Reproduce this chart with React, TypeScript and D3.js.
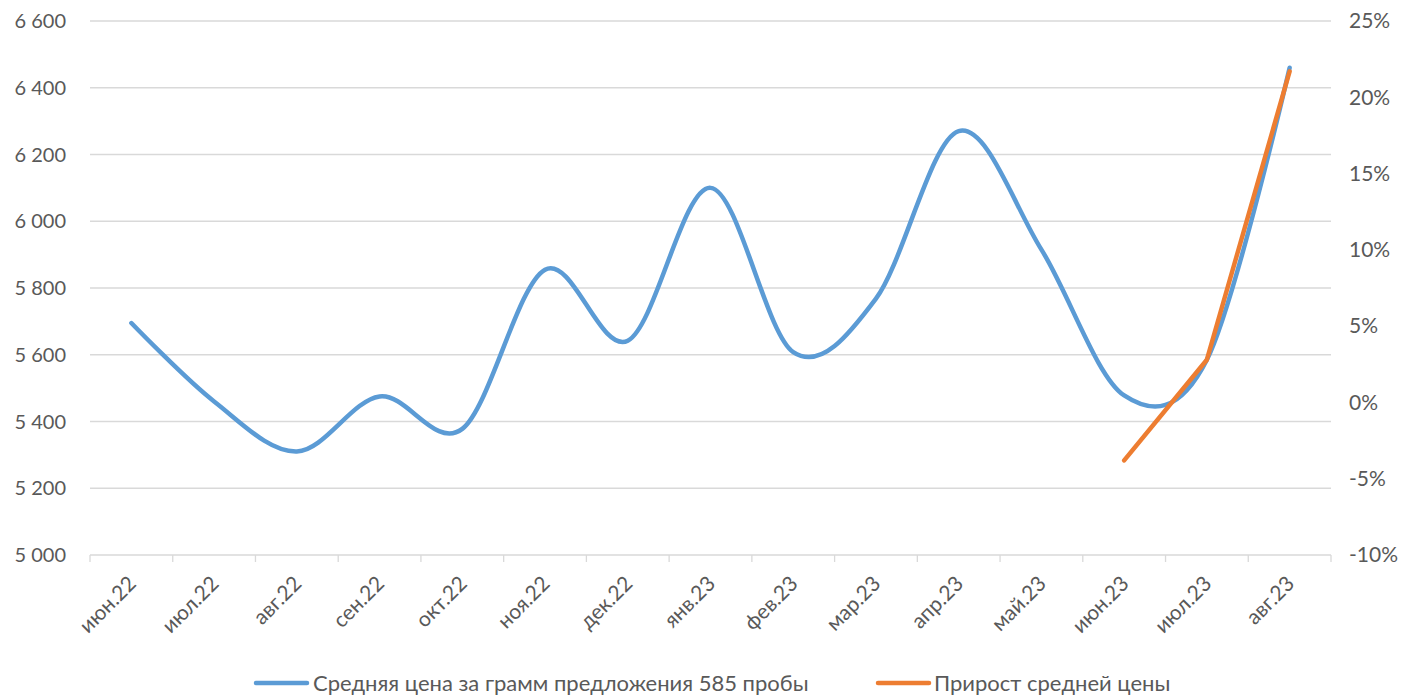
import React from "react";
import * as d3 from "d3";

const categories = ["июн.22","июл.22","авг.22","сен.22","окт.22","ноя.22","дек.22","янв.23","фев.23","мар.23","апр.23","май.23","июн.23","июл.23","авг.23"];
const avgPrice = [5695, 5460, 5310, 5475, 5378, 5855, 5642, 6100, 5608, 5768, 6270, 5915, 5478, 5585, 6460];
const growth: (number | null)[] = [null, null, null, null, null, null, null, null, null, null, null, null, -0.038, 0.028, 0.217];
const leftTicks = [5000, 5200, 5400, 5600, 5800, 6000, 6200, 6400, 6600];
const rightTicks = [-0.10, -0.05, 0, 0.05, 0.10, 0.15, 0.20, 0.25];
const seriesNames = ["Средняя цена за грамм предложения 585 пробы", "Прирост средней цены"];

const W = 1407, H = 695;
const L = 90, R = 1331, T = 21, B = 555;
const FONT = "Lato, 'Open Sans', sans-serif";
const TXT = "#595959";
const GRID = "#D9D9D9";
const BLUE = "#5B9BD5";
const ORANGE = "#ED7D31";

export default function App() {
  const x = d3.scaleBand<string>().domain(categories).range([L, R]).padding(0);
  const cx = (c: string) => (x(c) as number) + x.bandwidth() / 2;
  const yL = d3.scaleLinear().domain([5000, 6600]).range([B, T]);
  const yR = d3.scaleLinear().domain([-0.10, 0.25]).range([B, T]);

  const blueLine = d3.line<number>()
    .x((_, i) => cx(categories[i]))
    .y((d) => yL(d))
    .curve(d3.curveCatmullRom.alpha(0));
  const orangePts = growth.map((g, i) => ({ g, c: categories[i] })).filter((p) => p.g !== null) as { g: number; c: string }[];
  const orangeLine = d3.line<{ g: number; c: string }>()
    .x((d) => cx(d.c))
    .y((d) => yR(d.g))
    .curve(d3.curveLinear);

  const fmtL = (v: number) => d3.format(",")(v).replace(",", " ");
  const fmtR = (v: number) => `${Math.round(v * 100)}%`;
  const boundaries = d3.range(categories.length + 1).map((i) => L + i * x.bandwidth());

  return (
    <svg width={W} height={H} style={{ position: "absolute", left: 0, top: 0, background: "#fff" }} fontFamily={FONT}>
      {leftTicks.map((t) => (
        <line key={"g" + t} x1={L} x2={R} y1={yL(t)} y2={yL(t)} stroke={GRID} strokeWidth={1.3} />
      ))}
      {boundaries.map((b, i) => (
        <line key={"tk" + i} x1={b} x2={b} y1={B} y2={B + 7} stroke={GRID} strokeWidth={1.3} />
      ))}
      {leftTicks.map((t) => (
        <text key={"l" + t} x={66} y={yL(t)} dy="0.35em" textAnchor="end" fontSize={20} fill={TXT}>{fmtL(t)}</text>
      ))}
      {rightTicks.map((t) => (
        <text key={"r" + t} x={1349} y={yR(t)} dy="0.35em" textAnchor="start" fontSize={21} fill={TXT}>{fmtR(t)}</text>
      ))}
      {categories.map((c) => (
        <text key={"c" + c} transform={`translate(${cx(c) + 6},${B + 30}) rotate(-45)`} textAnchor="end" fontSize={21} fill={TXT}>{c}</text>
      ))}
      <path d={blueLine(avgPrice) || ""} fill="none" stroke={BLUE} strokeWidth={4.5} strokeLinecap="round" strokeLinejoin="round" />
      <path d={orangeLine(orangePts) || ""} fill="none" stroke={ORANGE} strokeWidth={4.5} strokeLinecap="round" strokeLinejoin="round" />
      <line x1={256} x2={307} y1={683} y2={683} stroke={BLUE} strokeWidth={4.5} strokeLinecap="round" />
      <text x={313} y={683} dy="0.35em" fontSize={22} fill={TXT}>{seriesNames[0]}</text>
      <line x1={878} x2={929} y1={683} y2={683} stroke={ORANGE} strokeWidth={4.5} strokeLinecap="round" />
      <text x={934} y={683} dy="0.35em" fontSize={22} fill={TXT}>{seriesNames[1]}</text>
    </svg>
  );
}
